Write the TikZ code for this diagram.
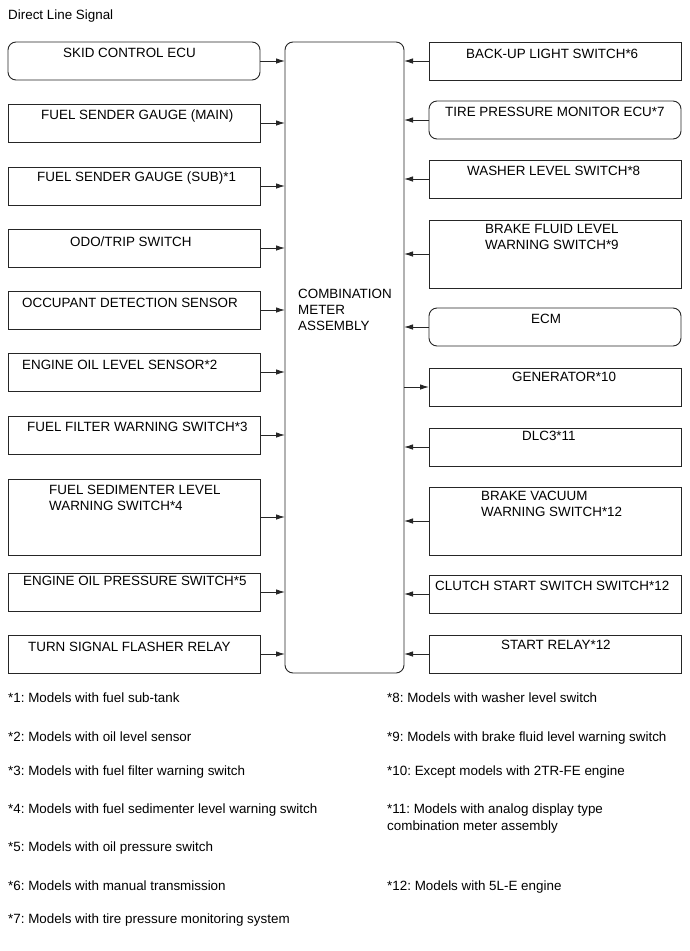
\documentclass[tikz,border=0pt]{standalone}
\usepackage{fontspec}
\setmainfont{Liberation Sans}
\usetikzlibrary{arrows.meta}
\frenchspacing
\begin{document}
\begin{tikzpicture}[x=1pt,y=-1pt,
  box/.style={draw=black!85, line width=0.9pt, minimum width=252pt, minimum height=38pt, anchor=north west, inner sep=0pt, outer sep=0pt},
  rbox/.style={box, rounded corners=8pt},
  arr/.style={draw=black!85, line width=0.9pt, -{Latex[length=9pt,width=5.5pt]}},
  txt/.style={anchor=base west, inner sep=0pt, font=\fontsize{13.4}{16}\selectfont},
  ftxt/.style={anchor=base west, inner sep=0pt, font=\fontsize{13.4}{16}\selectfont}]
\useasboundingbox (0,0) rectangle (690,951);
\node[ftxt] (title) at (8,19) {Direct Line Signal};
% central
\node[box, rounded corners=8pt, minimum width=119pt, minimum height=631pt] (cm) at (285,42) {};
\node[txt] (c1) at (298,298) {COMBINATION};
\node[txt] (c2) at (298,314) {METER};
\node[txt] (c3) at (298,330) {ASSEMBLY};
% left column
\node[rbox] (l1) at (8,42) {};
\node[box] (l2) at (8,104) {};
\node[box] (l3) at (8,167) {};
\node[box] (l4) at (8,229) {};
\node[box] (l5) at (8,291) {};
\node[box] (l6) at (8,353) {};
\node[box] (l7) at (8,416) {};
\node[box, minimum height=76pt] (l8) at (8,479) {};
\node[box] (l9) at (8,573) {};
\node[box] (l10) at (8,635) {};
\node[txt] (tl1) at (63,57) {SKID CONTROL ECU};
\node[txt] (tl2) at (41,119) {FUEL SENDER GAUGE (MAIN)};
\node[txt] (tl3) at (37,181) {FUEL SENDER GAUGE (SUB)*1};
\node[txt] (tl4) at (70,246) {ODO/TRIP SWITCH};
\node[txt] (tl5) at (22,307) {OCCUPANT DETECTION SENSOR};
\node[txt] (tl6) at (22,369) {ENGINE OIL LEVEL SENSOR*2};
\node[txt] (tl7) at (27,431) {FUEL FILTER WARNING SWITCH*3};
\node[txt] (tl8a) at (49,494) {FUEL SEDIMENTER LEVEL};
\node[txt] (tl8b) at (49,510) {WARNING SWITCH*4};
\node[txt] (tl9) at (23,585) {ENGINE OIL PRESSURE SWITCH*5};
\node[txt] (tl10) at (28,651) {TURN SIGNAL FLASHER RELAY};
\foreach \n in {l1,l2,l3,l4,l5,l6,l7,l8,l9,l10}
  \draw[arr] (\n.east) -- (\n.east -| cm.west);
% right column
\node[box] (r1) at (429,42) {};
\node[rbox] (r2) at (429,101) {};
\node[box] (r3) at (429,160) {};
\node[box, minimum height=68pt] (r4) at (429,220) {};
\node[rbox] (r5) at (429,308) {};
\node[box] (r6) at (429,368) {};
\node[box] (r7) at (429,428) {};
\node[box, minimum height=68pt] (r8) at (429,487) {};
\node[box] (r9) at (429,575) {};
\node[box] (r10) at (429,635) {};
\node[txt] (tr1) at (466,58) {BACK-UP LIGHT SWITCH*6};
\node[txt] (tr2) at (445,116) {TIRE PRESSURE MONITOR ECU*7};
\node[txt] (tr3) at (467,175) {WASHER LEVEL SWITCH*8};
\node[txt] (tr4a) at (485,233) {BRAKE FLUID LEVEL};
\node[txt] (tr4b) at (485,249) {WARNING SWITCH*9};
\node[txt] (tr5) at (531,323) {ECM};
\node[txt] (tr6) at (512,381) {GENERATOR*10};
\node[txt] (tr7) at (522,440) {DLC3*11};
\node[txt] (tr8a) at (481,500) {BRAKE VACUUM};
\node[txt] (tr8b) at (481,516) {WARNING SWITCH*12};
\node[txt] (tr9) at (435,590) {CLUTCH START SWITCH SWITCH*12};
\node[txt] (tr10) at (501,649) {START RELAY*12};
\foreach \n in {r1,r2,r3,r4,r5,r7,r8,r9,r10}
  \draw[arr] (\n.west) -- (\n.west -| cm.east);
\draw[arr] (r6.west -| cm.east) -- (r6.west);
% footnotes
\node[ftxt] (f1) at (8,702) {*1: Models with fuel sub-tank};
\node[ftxt] (f2) at (8,741) {*2: Models with oil level sensor};
\node[ftxt] (f3) at (8,775) {*3: Models with fuel filter warning switch};
\node[ftxt] (f4) at (8,813) {*4: Models with fuel sedimenter level warning switch};
\node[ftxt] (f5) at (8,851) {*5: Models with oil pressure switch};
\node[ftxt] (f6) at (8,890) {*6: Models with manual transmission};
\node[ftxt] (f7) at (8,923) {*7: Models with tire pressure monitoring system};
\node[ftxt] (f8) at (387,702) {*8: Models with washer level switch};
\node[ftxt] (f9) at (387,741) {*9: Models with brake fluid level warning switch};
\node[ftxt] (f10) at (387,775) {*10: Except models with 2TR-FE engine};
\node[ftxt] (f11a) at (387,813) {*11: Models with analog display type};
\node[ftxt] (f11b) at (387,830) {combination meter assembly};
\node[ftxt] (f12) at (387,890) {*12: Models with 5L-E engine};
\end{tikzpicture}
\end{document}
